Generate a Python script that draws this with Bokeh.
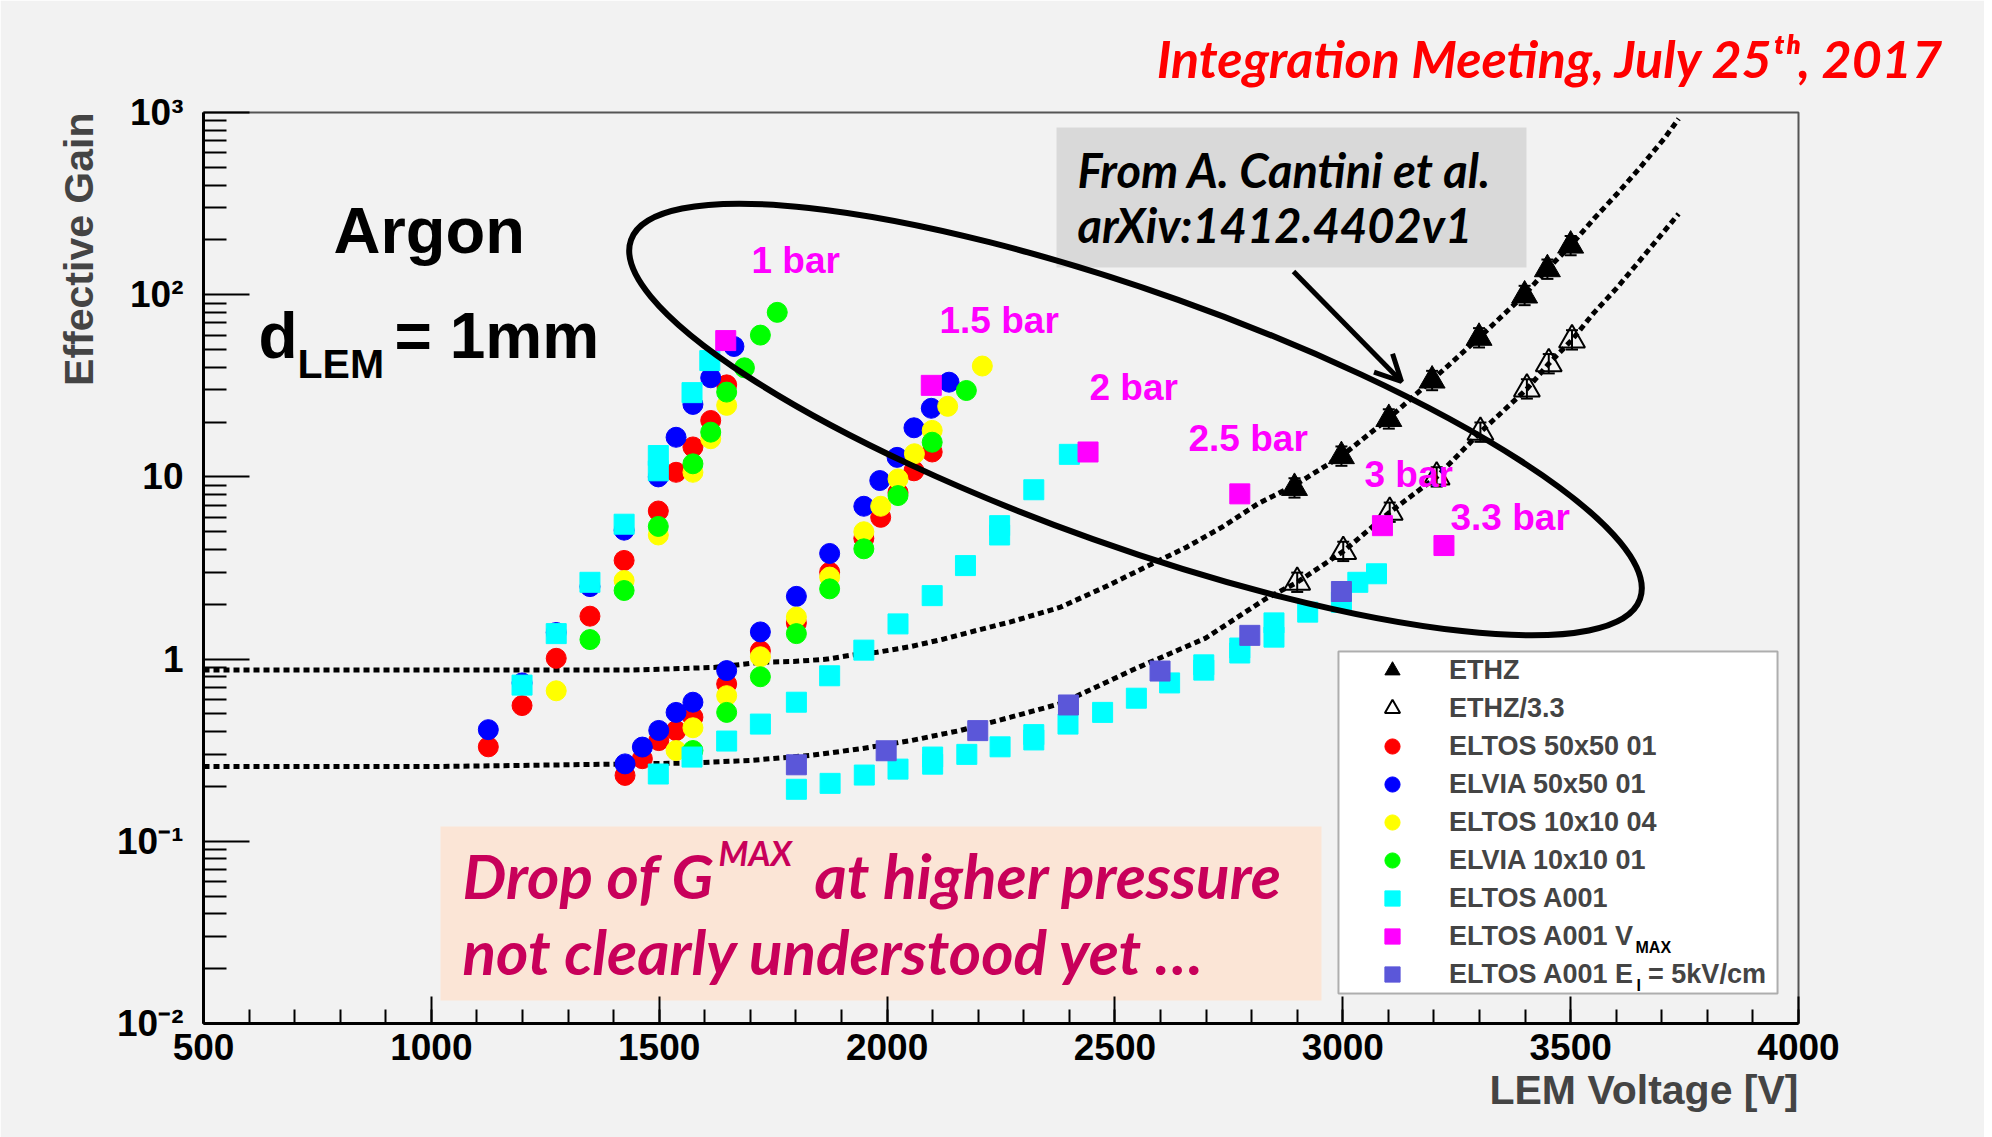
import math
from bokeh.plotting import figure
from bokeh.models import (Range1d, Label, Legend, LegendItem, BoxAnnotation, Arrow, OpenHead,
                          Whisker, TeeHead, ColumnDataSource, SingleIntervalTicker, FixedTicker,
                          CustomJSTickFormatter, Title)
from bokeh.embed import file_html
from bokeh.resources import INLINE

# ---------------- data ----------------
y_ticks = [0.01, 0.1, 1, 10, 100, 1000]
y_tick_labels = ["10\u207b\u00b2", "10\u207b\u00b9", "1", "10", "10\u00b2", "10\u00b3"]

ethz_v = [2894, 2997, 3101, 3196, 3299, 3399, 3449, 3500]
ethz_g = [8.7, 13.0, 20.8, 33.8, 58, 99, 138, 186]
ethz33_v = [2900, 3001, 3103, 3206, 3302, 3404, 3452, 3503]
ethz33_g = [2.64, 3.9, 6.4, 10.0, 17.6, 30.4, 41.8, 56.5]
ethz_err = 0.13

fit_v = [500, 1000, 1440, 1620, 1722, 1795, 1869, 1920, 1978, 2051, 2125, 2198, 2271, 2344,
         2381, 2480, 2578, 2656, 2735, 2813, 2894, 2997, 3101, 3196, 3299, 3399, 3449, 3500,
         3551, 3602, 3653, 3705, 3737]
fit_g = [0.87, 0.87, 0.87, 0.90, 0.96, 0.97, 1.00, 1.05, 1.09, 1.17, 1.29, 1.44, 1.60, 1.81,
         1.93, 2.5, 3.3, 4.1, 5.3, 7.1, 9.0, 13.0, 21, 34, 58, 100, 138, 186,
         261, 358, 501, 717, 923]
fit33_v = [500, 1000, 1300, 1570, 1700, 1832, 1942, 2052, 2161, 2271, 2381, 2542, 2698, 2832,
           2900, 3001, 3103, 3206, 3302, 3404, 3452, 3503, 3550, 3600, 3650, 3700, 3737]
fit33_g = [0.257, 0.257, 0.263, 0.269, 0.278, 0.296, 0.322, 0.357, 0.406, 0.48, 0.57, 0.88, 1.3,
           2.15, 2.64, 3.9, 6.4, 10.0, 17.6, 30.4, 41.8, 56.5, 79, 108, 152, 215, 278]

eltos50_v = [1125, 1199, 1274, 1348, 1423, 1498, 1537, 1574, 1613, 1648,
             1425, 1463, 1499, 1537, 1574, 1648, 1722, 1801, 1874, 1949, 1986, 2024, 2059, 2099]
eltos50_g = [0.33, 0.556, 1.01, 1.72, 3.48, 6.5, 10.6, 14.6, 20.4, 32,
             0.23, 0.284, 0.357, 0.405, 0.48, 0.73, 1.11, 1.58, 3.0, 4.6, 6.0, 8.2, 10.8, 13.7]

elvia50_v = [1125, 1199, 1274, 1348, 1423, 1498, 1537, 1574, 1613, 1664,
             1425, 1463, 1499, 1537, 1574, 1648, 1722, 1801, 1874, 1949, 1984, 2022, 2059, 2097, 2136]
elvia50_g = [0.41, 0.74, 1.4, 2.5, 5.1, 10.0, 16.5, 25, 35, 52,
             0.266, 0.329, 0.406, 0.51, 0.58, 0.865, 1.41, 2.21, 3.8, 6.9, 9.55, 12.8, 18.6, 23.8, 33.1]

eltos10_v = [1274, 1423, 1498, 1574, 1613, 1648,
             1537, 1574, 1648, 1722, 1801, 1874, 1949, 1986, 2024, 2060, 2099, 2133, 2209]
eltos10_g = [0.67, 2.7, 4.8, 10.6, 16.2, 24.7,
             0.315, 0.42, 0.63, 1.03, 1.70, 2.82, 5.0, 6.9, 9.75, 13.4, 18.0, 24.4, 40.6]

elvia10_v = [1348, 1423, 1498, 1574, 1613, 1648, 1687, 1722, 1759,
             1574, 1648, 1722, 1801, 1874, 1949, 2024, 2099, 2174]
elvia10_g = [1.28, 2.38, 5.35, 11.8, 17.6, 29.2, 39.7, 60, 80,
             0.315, 0.51, 0.80, 1.38, 2.43, 4.03, 7.9, 15.5, 29.8]

a001_v = [1199, 1274, 1348, 1423, 1498, 1498, 1572, 1611,
          1498, 1572, 1648, 1722, 1801, 1874, 1949, 2024, 2099, 2172, 2247, 2247, 2322, 2400,
          1801, 1875, 1950, 2024, 2100, 2100, 2175, 2248, 2322, 2322, 2397, 2473, 2547, 2620,
          2695, 2695, 2774, 2774, 2849, 2849, 2923, 2997, 3033, 3074]
a001_g = [0.72, 1.38, 2.64, 5.5, 13.1, 10.8, 29, 43.5,
          0.234, 0.29, 0.355, 0.44, 0.58, 0.81, 1.12, 1.56, 2.23, 3.26, 5.4, 4.8, 8.5, 13.3,
          0.193, 0.208, 0.231, 0.249, 0.29, 0.265, 0.30, 0.33, 0.385, 0.36, 0.44, 0.51, 0.61, 0.74,
          0.93, 0.87, 1.15, 1.08, 1.58, 1.32, 1.81, 2.05, 2.64, 2.94]

vmax_v = [1646, 2097, 2441, 2774, 3087, 3222]
vmax_g = [56, 31.8, 13.7, 8.07, 5.4, 4.2]

ei5_v = [1801, 1998, 2199, 2398, 2599, 2796, 2997]
ei5_g = [0.263, 0.314, 0.405, 0.56, 0.86, 1.35, 2.35]

pressure_labels = ["1 bar", "1.5 bar", "2 bar", "2.5 bar", "3 bar", "3.3 bar"]

# ---------------- figure ----------------
ROOT = "Liberation Sans"
CAL = "Lato"
W, H = 1984, 1137
X0, X1, Y0, Y1 = 203, 1798, 112, 1023

p = figure(width=W, height=H, x_range=Range1d(500, 4000), y_range=Range1d(0.01, 1000),
           y_axis_type="log", output_backend="svg", toolbar_location=None,
           min_border_left=X0, min_border_right=W - X1, min_border_top=Y0,
           min_border_bottom=H - Y1,
           background_fill_color="#f2f2f2", border_fill_color="#f2f2f2")
p.grid.visible = False
p.outline_line_color = "#555555"
p.outline_line_width = 2

# top title
p.title.text = "Integration Meeting, July 25\u1d57\u02b0, 2017"
p.title.align = "right"
p.title.offset = -146
p.title.standoff = 48
p.title.text_font = CAL
p.title.text_font_style = "bold italic"
p.title.text_font_size = "52px"
p.title.text_color = "#ff0000"

xa = p.xaxis[0]
xa.ticker = SingleIntervalTicker(interval=500, num_minor_ticks=5)
xa.axis_line_width = 3
xa.major_tick_in = 27
xa.major_tick_out = 0
xa.minor_tick_in = 14
xa.minor_tick_out = 0
xa.major_tick_line_width = 2
xa.minor_tick_line_width = 2
xa.major_label_text_font = ROOT
xa.major_label_text_font_style = "bold"
xa.major_label_text_font_size = "37px"
xa.major_label_text_color = "black"
xa.major_label_standoff = 10

ya = p.yaxis[0]
minor = [m * 10 ** e for e in range(-2, 3) for m in range(2, 10)]
ya.ticker = FixedTicker(ticks=y_ticks, minor_ticks=minor)
ya.formatter = CustomJSTickFormatter(args=dict(labels=y_tick_labels),
                                     code="return labels[Math.round(Math.log10(tick)) + 2]")
ya.axis_line_width = 3
ya.major_tick_in = 46
ya.major_tick_out = 0
ya.minor_tick_in = 23
ya.minor_tick_out = 0
ya.major_tick_line_width = 2
ya.minor_tick_line_width = 2
ya.major_label_text_font = ROOT
ya.major_label_text_font_style = "bold"
ya.major_label_text_font_size = "37px"
ya.major_label_text_color = "black"
ya.major_label_standoff = 20

p.add_layout(Title(text="Effective Gain", align="right", text_font=ROOT, text_font_style="bold",
                   text_font_size="41px", standoff=25), "left")
p.add_layout(Title(text="LEM Voltage [V]", align="right", text_font=ROOT, text_font_style="bold",
                   text_font_size="41px", standoff=4), "below")


def vx(px):
    return 500 + (px - X0) * 3500 / (X1 - X0)


def gy(py):
    return 10 ** (3 - (py - Y0) * 5 / (Y1 - Y0))


def txt(text, px, py, size, color="black", font=ROOT, style="bold", align="left",
        level="annotation"):
    # py is the wanted baseline; Bokeh's alphabetic baseline sits ~0.35em lower
    p.add_layout(Label(x=vx(px), y=gy(py - 0.35 * size), text=text, text_font=font,
                       text_font_style=style, text_font_size=f"{size}px", text_color=color,
                       text_align=align, text_baseline="alphabetic", level=level))


# annotation boxes (behind everything)
p.add_layout(BoxAnnotation(left=vx(440), right=vx(1321), top=gy(826), bottom=gy(1000),
                           fill_color="#fbe5d6", fill_alpha=1, line_color=None, level="underlay"))
p.add_layout(BoxAnnotation(left=vx(1056), right=vx(1526), top=gy(127), bottom=gy(267),
                           fill_color="#d9d9d9", fill_alpha=1, line_color=None, level="underlay"))
# legend frame (white box with black border)
p.add_layout(BoxAnnotation(left=vx(1338), right=vx(1777), top=gy(651), bottom=gy(993),
                           fill_color="white", fill_alpha=1, line_color="black", line_width=2,
                           level="underlay"))

# fits
p.line(fit_v, fit_g, line_color="black", line_width=5, line_dash="6 4")
p.line(fit33_v, fit33_g, line_color="black", line_width=5, line_dash="6 4")

# error bars for ETHZ
for vv, gg in ((ethz_v, ethz_g), (ethz33_v, ethz33_g)):
    src = ColumnDataSource(dict(v=vv, up=[g * (1 + ethz_err) for g in gg],
                                lo=[g / (1 + ethz_err) for g in gg]))
    p.add_layout(Whisker(source=src, base="v", upper="up", lower="lo", dimension="height",
                         line_color="black", line_width=2,
                         upper_head=TeeHead(size=12, line_width=2, line_color="black"),
                         lower_head=TeeHead(size=12, line_width=2, line_color="black")))

r_ethz = p.scatter(ethz_v, ethz_g, marker="triangle", size=26, fill_color="black", line_color="black")
r_ethz33 = p.scatter(ethz33_v, ethz33_g, marker="triangle", size=26, fill_color=None,
                     line_color="black", line_width=2)


def sc(v, g, marker, color, size=20):
    return p.scatter(v, g, marker=marker, size=size, fill_color=color, line_color=color, line_width=1)


r_red = sc(eltos50_v, eltos50_g, "circle", "#ff0000")
r_blue = sc(elvia50_v, elvia50_g, "circle", "#0000ff")
r_yel = sc(eltos10_v, eltos10_g, "circle", "#ffff00")
r_grn = sc(elvia10_v, elvia10_g, "circle", "#00ff00")
r_cyan = sc(a001_v, a001_g, "square", "#00ffff")
r_mag = sc(vmax_v, vmax_g, "square", "#ff00ff")
r_pur = sc(ei5_v, ei5_g, "square", "#5b57d9")

# big ellipse
p.ellipse(x=[vx(1135)], y=[gy(419)], width=[1071], height=[254], angle=-0.342,
          width_units="screen", height_units="screen", fill_color=None,
          line_color="black", line_width=6)

# arrow
p.add_layout(Arrow(x_start=vx(1293), y_start=gy(271), x_end=vx(1401), y_end=gy(381),
                   line_width=5, line_color="black",
                   end=OpenHead(size=26, line_width=5, line_color="black")))

# legend (transparent; frame drawn above as a box)
legend = Legend(items=[
    LegendItem(label="ETHZ", renderers=[r_ethz]),
    LegendItem(label="ETHZ/3.3", renderers=[r_ethz33]),
    LegendItem(label="ELTOS 50x50 01", renderers=[r_red]),
    LegendItem(label="ELVIA 50x50 01", renderers=[r_blue]),
    LegendItem(label="ELTOS 10x10 04", renderers=[r_yel]),
    LegendItem(label="ELVIA 10x10 01", renderers=[r_grn]),
    LegendItem(label="ELTOS A001", renderers=[r_cyan]),
    LegendItem(label="ELTOS A001 V", renderers=[r_mag]),
    LegendItem(label="ELTOS A001 E  = 5kV/cm", renderers=[r_pur]),
], location=(1338 - X0, Y1 - 993), padding=0, spacing=0, margin=0,
    glyph_width=108, glyph_height=38, label_height=38, label_width=328, label_standoff=3,
    label_text_font=ROOT, label_text_font_style="bold", label_text_font_size="27px",
    border_line_color=None, background_fill_alpha=0)
p.add_layout(legend)
txt("MAX", 1635, 953, 16)
txt("I", 1636, 991, 16)

# annotations
txt("Argon", 333, 253, 65)
txt("d", 258, 358, 64)
txt("LEM", 297, 378, 41)
txt("= 1mm", 394, 358, 64)

for lab, (px, py) in zip(pressure_labels, [(751, 273), (939, 333), (1089, 400), (1188, 451),
                                           (1364, 487), (1450, 530)]):
    txt(lab, px, py, 37, color="#ff00ff")

txt("From A. Cantini et al.", 1077, 186, 47, font=CAL, style="bold italic")
txt("arXiv:1412.4402v1", 1077, 241, 47, font=CAL, style="bold italic")

pink = "#c8005a"
txt("Drop of G", 462, 896, 62, color=pink, font=CAL, style="bold italic")
txt("MAX", 718, 864, 34, color=pink, font=CAL, style="bold italic")
txt("at higher pressure", 814, 896, 62, color=pink, font=CAL, style="bold italic")
txt("not clearly understood yet \u2026", 462, 972, 62, color=pink, font=CAL, style="bold italic")

open("out.html", "w").write(file_html(p, INLINE))
